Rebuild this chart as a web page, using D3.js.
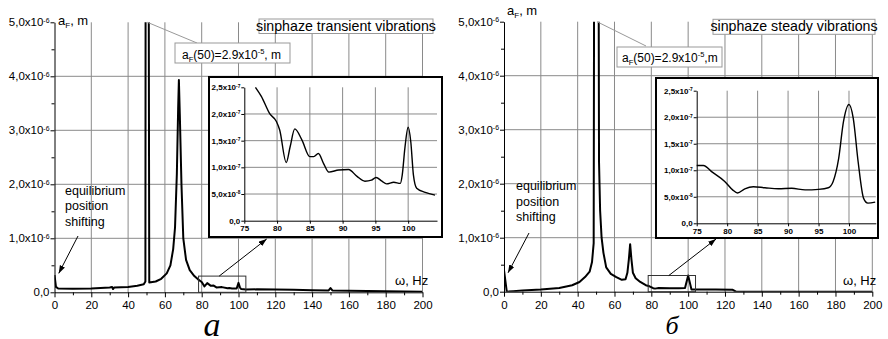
<!DOCTYPE html>
<html>
<head>
<meta charset="utf-8">
<script src="https://cdn.jsdelivr.net/npm/d3@7"></script>
<style>
  body { margin: 0; background: #fff; }
  text { font-family: "Liberation Sans", Arial, sans-serif; fill: #000; }
  text.letter { font-family: "Liberation Serif", "Times New Roman", serif; font-style: italic; }
</style>
</head>
<body>
<script>
// tick values (main axes in Hz and 1e-6 m, insets in Hz and 1e-7 m)
var freqTicks = [0, 20, 40, 60, 80, 100, 120, 140, 160, 180, 200];
var freqMinor = [10, 30, 50, 70, 90, 110, 130, 150, 170, 190];
var ampTicks = [0, 1, 2, 3, 4, 5];
var ampMinor = [0.5, 1.5, 2.5, 3.5, 4.5];
var insetFreqTicks = [75, 80, 85, 90, 95, 100];
var insetAmpTicks = [0, 0.5, 1, 1.5, 2, 2.5];

// transient vibrations, amplitude in 1e-6 m
var transientFreq = [0, 0.8, 2, 10, 20, 30, 31.3, 31.8, 32.5, 40, 45, 48.5, 49.4, 50, 51.5, 55, 58, 61, 63, 64.5, 65.5, 66.5, 67.2, 67.6, 68.1, 69, 70, 71.5, 73.5, 76, 78, 80, 81.5, 83, 85, 86.5, 88, 91, 94, 95, 96.5, 99, 100, 100.8, 101.5, 104, 110, 120, 130, 140, 149, 150, 151, 160, 170, 180, 190, 200];
var transientAmp = [0.32, 0.1, 0.07, 0.065, 0.07, 0.09, 0.1, 0.06, 0.09, 0.1, 0.12, 0.15, 0.2, 29, 0.18, 0.2, 0.25, 0.35, 0.5, 0.8, 1.2, 2.2, 3.4, 3.93, 3.3, 2.0, 1.0, 0.6, 0.41, 0.3, 0.24, 0.19, 0.11, 0.17, 0.12, 0.125, 0.09, 0.096, 0.075, 0.08, 0.07, 0.07, 0.175, 0.086, 0.06, 0.05, 0.055, 0.05, 0.045, 0.04, 0.035, 0.08, 0.035, 0.03, 0.025, 0.02, 0.015, 0.012];

// transient inset, amplitude in 1e-7 m
var transientInsetFreq = [76.7, 77.6, 78.9, 79.9, 80.4, 81.4, 82.0, 82.7, 83.8, 85.0, 85.6, 86.3, 87.1, 87.9, 89.4, 90.9, 92.2, 93.4, 94.4, 95.1, 96.0, 96.7, 97.8, 98.8, 99.1, 99.5, 100.0, 100.4, 100.8, 101.3, 102.6, 104.1];
var transientInsetAmp = [2.5, 2.33, 2.0, 1.86, 1.7, 1.09, 1.39, 1.72, 1.51, 1.2, 1.2, 1.26, 1.07, 0.91, 0.95, 0.96, 0.83, 0.74, 0.76, 0.81, 0.74, 0.69, 0.72, 0.70, 0.86, 1.36, 1.75, 1.48, 0.86, 0.61, 0.53, 0.48];

// steady vibrations, amplitude in 1e-6 m
var steadyFreq = [0, 1.5, 5, 10, 20, 30, 37, 41, 44, 46.5, 47.8, 48.7, 50, 51.6, 52.2, 53, 54, 55.5, 58, 61, 64, 66, 67, 67.8, 68.5, 69.2, 70, 71.5, 74, 77, 79, 81, 82, 84, 90, 95, 98.3, 100, 101.8, 104, 115, 124, 126, 200];
var steadyAmp = [0.4, 0.0, 0.01, 0.02, 0.04, 0.07, 0.12, 0.18, 0.27, 0.37, 0.55, 0.9, 29, 2.4, 1.5, 1.0, 0.72, 0.45, 0.33, 0.27, 0.22, 0.23, 0.35, 0.6, 0.88, 0.6, 0.35, 0.25, 0.18, 0.12, 0.1, 0.065, 0.057, 0.07, 0.066, 0.064, 0.07, 0.3, 0.04, 0.04, 0.04, 0.038, 0, 0];

// steady inset, amplitude in 1e-7 m
var steadyInsetFreq = [75, 76.1, 77.5, 79.6, 80.9, 81.7, 82.9, 84.3, 86.2, 88.4, 90.6, 92.8, 95.0, 96.6, 97.4, 98.3, 99.1, 100.0, 100.7, 101.5, 102.4, 103.1, 104.3];
var steadyInsetAmp = [1.09, 1.09, 0.97, 0.79, 0.63, 0.57, 0.65, 0.69, 0.67, 0.65, 0.66, 0.63, 0.64, 0.67, 0.79, 1.22, 1.92, 2.24, 1.98, 1.16, 0.47, 0.38, 0.40];

var panels = [
  {
    id: "a", freq: transientFreq, amp: transientAmp,
    insetFreq: transientInsetFreq, insetAmp: transientInsetAmp,
    x0: 54.5, x1: 422.5, y0: 292.3, y1: 22.3,
    box: {l: 209, t: 77, r: 442, b: 237}, ix0: 244.3, ix1: 437, iy0: 220.7, iy1: 87.3,
    title: "sinphaze transient vibrations", titleBox: [259, 19, 174, 14.5], titleY: 30.8,
    note: ", m", noteBox: [175, 43, 115, 20], noteX: 182, noteY: 58.5, leaderTo: [197, 43],
    yLabel: [58, 25], xLabel: [395, 285],
    eqX: 65, eqY: 194.5, eqFrom: [78, 236], eqTo: [2.3, 0.35],
    zoomTo: [266.7, 239],
    letter: "a", letterX: 212, letterY: 336, letterSize: 34
  },
  {
    id: "b", freq: steadyFreq, amp: steadyAmp,
    insetFreq: steadyInsetFreq, insetAmp: steadyInsetAmp,
    x0: 504, x1: 872.3, y0: 291.7, y1: 21.7,
    box: {l: 656, t: 78, r: 878, b: 238}, ix0: 696.7, ix1: 875.8, iy0: 223.3, iy1: 90.7,
    title: "sinphaze steady vibrations", titleBox: [713, 19.3, 162, 15], titleY: 31.3,
    note: ",m", noteBox: [617, 47, 105, 20], noteX: 622, noteY: 61.5, leaderTo: [646, 46],
    yLabel: [507, 15], xLabel: [843, 285],
    eqX: 516, eqY: 190, eqFrom: [529, 233], eqTo: [2.2, 0.35],
    zoomTo: [716, 239],
    letter: "\u0431", letterX: 672, letterY: 334, letterSize: 26
  }
];

var svg = d3.select("body").append("svg")
  .attr("width", 888)
  .attr("height", 339);

svg.append("defs").append("marker")
  .attr("id", "arrow")
  .attr("viewBox", "0 0 10 7")
  .attr("refX", 10).attr("refY", 3.5)
  .attr("markerWidth", 8).attr("markerHeight", 6)
  .attr("orient", "auto")
  .append("path")
  .attr("d", "M0,0 L10,3.5 L0,7 z")
  .attr("fill", "#000");

// tick labels like 2,5x10^-7
function sciLabels(sel, unit) {
  sel.each(function(d) {
    var t = d3.select(this), v = d * unit;
    t.text(null);
    if (v === 0) { t.text("0,0"); return; }
    var e = Math.floor(Math.log10(v) + 1e-9);
    var m = (v / Math.pow(10, e)).toFixed(1).replace(".", ",");
    t.append("tspan").text(m + "x10");
    t.append("tspan").attr("dy", "-0.55em").attr("font-size", "0.6em").text(e);
  });
}

panels.forEach(function(p) {
  var g = svg.append("g");

  var x = d3.scaleLinear().domain([0, 200]).range([p.x0, p.x1]);
  var y = d3.scaleLinear().domain([0, 5]).range([p.y0, p.y1]);

  g.append("clipPath").attr("id", "clip-" + p.id)
    .append("rect")
    .attr("x", p.x0).attr("y", p.y1)
    .attr("width", p.x1 - p.x0).attr("height", p.y0 - p.y1);

  // grid
  g.append("g").selectAll("line").data(freqTicks.slice(1)).join("line")
    .attr("x1", d => x(d)).attr("x2", d => x(d))
    .attr("y1", p.y1).attr("y2", p.y0)
    .attr("stroke", "#8a8a8a").attr("stroke-width", 1);
  g.append("g").selectAll("line").data(ampTicks.slice(1, 5)).join("line")
    .attr("x1", p.x0).attr("x2", p.x1)
    .attr("y1", d => y(d)).attr("y2", d => y(d))
    .attr("stroke", "#8a8a8a").attr("stroke-width", 1);

  // curve
  var pts = p.freq.map((f, i) => [f, p.amp[i]]);
  g.append("path")
    .datum(pts)
    .attr("clip-path", "url(#clip-" + p.id + ")")
    .attr("fill", "none")
    .attr("stroke", "#000")
    .attr("stroke-width", 2)
    .attr("stroke-linejoin", "round")
    .attr("d", d3.line().x(d => x(d[0])).y(d => y(d[1])));

  // axes
  g.append("g")
    .attr("transform", `translate(0,${p.y0})`)
    .call(d3.axisBottom(x).tickValues(freqMinor).tickSize(3).tickFormat(""))
    .call(a => a.select(".domain").remove());
  g.append("g")
    .attr("transform", `translate(${p.x0},0)`)
    .call(d3.axisLeft(y).tickValues(ampMinor).tickSize(3).tickFormat(""))
    .call(a => a.select(".domain").remove());
  g.append("g")
    .attr("transform", `translate(0,${p.y0})`)
    .call(d3.axisBottom(x).tickValues(freqTicks).tickSize(5).tickSizeOuter(0).tickPadding(4))
    .call(a => a.selectAll("text").attr("font-size", 11.5));
  g.append("g")
    .attr("transform", `translate(${p.x0},0)`)
    .call(d3.axisLeft(y).tickValues(ampTicks).tickSize(4).tickSizeOuter(0).tickPadding(1))
    .call(a => a.selectAll("text").attr("font-size", 11.5).call(sciLabels, 1e-6));

  // axis titles
  var yl = g.append("text").attr("x", p.yLabel[0]).attr("y", p.yLabel[1]).attr("font-size", 13);
  yl.append("tspan").text("a");
  yl.append("tspan").attr("dy", 3).attr("font-size", 8).text("F");
  yl.append("tspan").attr("dy", -3).text(", m");
  g.append("text").attr("x", p.xLabel[0]).attr("y", p.xLabel[1]).attr("font-size", 13).text("\u03c9, Hz");

  // zoomed region and arrow towards inset
  g.append("rect")
    .attr("x", x(78.3)).attr("y", y(0.3))
    .attr("width", x(104) - x(78.3)).attr("height", y(0) - y(0.3))
    .attr("fill", "none").attr("stroke", "#333").attr("stroke-width", 1);
  g.append("line")
    .attr("x1", x(89.5)).attr("y1", y(0.3))
    .attr("x2", p.zoomTo[0]).attr("y2", p.zoomTo[1])
    .attr("stroke", "#000").attr("stroke-width", 1)
    .attr("marker-end", "url(#arrow)");

  // equilibrium note
  var eq = g.append("text").attr("font-size", 12.5);
  ["equilibrium", "position", "shifting"].forEach(function(s, i) {
    eq.append("tspan").attr("x", p.eqX).attr("y", p.eqY + i * 15.5).text(s);
  });
  g.append("line")
    .attr("x1", p.eqFrom[0]).attr("y1", p.eqFrom[1])
    .attr("x2", x(p.eqTo[0])).attr("y2", y(p.eqTo[1]))
    .attr("stroke", "#000").attr("stroke-width", 1)
    .attr("marker-end", "url(#arrow)");

  // peak value note
  g.append("line")
    .attr("x1", x(50.5)).attr("y1", p.y1)
    .attr("x2", p.leaderTo[0]).attr("y2", p.leaderTo[1])
    .attr("stroke", "#999").attr("stroke-width", 1);
  g.append("rect")
    .attr("x", p.noteBox[0]).attr("y", p.noteBox[1])
    .attr("width", p.noteBox[2]).attr("height", p.noteBox[3])
    .attr("fill", "#fff").attr("stroke", "#999");
  var nt = g.append("text").attr("x", p.noteX).attr("y", p.noteY).attr("font-size", 12);
  nt.append("tspan").text("a");
  nt.append("tspan").attr("dy", 3).attr("font-size", 7.5).text("F");
  nt.append("tspan").attr("dy", -3).text("(50)=2.9x10");
  nt.append("tspan").attr("dy", -5).attr("font-size", 7.5).text("-5");
  nt.append("tspan").attr("dy", 5).text(p.note);

  // title
  g.append("rect")
    .attr("x", p.titleBox[0]).attr("y", p.titleBox[1])
    .attr("width", p.titleBox[2]).attr("height", p.titleBox[3])
    .attr("fill", "#fff").attr("stroke", "#999");
  g.append("text")
    .attr("x", p.titleBox[0] + p.titleBox[2] / 2).attr("y", p.titleY)
    .attr("text-anchor", "middle").attr("font-size", 14.2)
    .text(p.title);

  // inset
  var b = p.box;
  g.append("rect")
    .attr("x", b.l).attr("y", b.t)
    .attr("width", b.r - b.l).attr("height", b.b - b.t)
    .attr("fill", "#fff").attr("stroke", "#000").attr("stroke-width", 2);

  var ix = d3.scaleLinear().domain([75, 104.4]).range([p.ix0, p.ix1]);
  var iy = d3.scaleLinear().domain([0, 2.5]).range([p.iy0, p.iy1]);

  g.append("g").selectAll("line").data(insetFreqTicks.slice(1)).join("line")
    .attr("x1", d => ix(d)).attr("x2", d => ix(d))
    .attr("y1", p.iy1).attr("y2", p.iy0)
    .attr("stroke", "#8a8a8a");
  g.append("g").selectAll("line").data(insetAmpTicks.slice(1, 5)).join("line")
    .attr("x1", p.ix0).attr("x2", p.ix1)
    .attr("y1", d => iy(d)).attr("y2", d => iy(d))
    .attr("stroke", "#8a8a8a");

  var ipts = p.insetFreq.map((f, i) => [f, p.insetAmp[i]]);
  g.append("path")
    .datum(ipts)
    .attr("fill", "none")
    .attr("stroke", "#000")
    .attr("stroke-width", 1.4)
    .attr("d", d3.line().curve(d3.curveMonotoneX).x(d => ix(d[0])).y(d => iy(d[1])));

  g.append("g")
    .attr("transform", `translate(0,${p.iy0})`)
    .call(d3.axisBottom(ix).tickValues(insetFreqTicks).tickSize(3).tickSizeOuter(0).tickPadding(2))
    .call(a => a.selectAll("text").attr("font-size", 8).attr("font-weight", "bold"));
  g.append("g")
    .attr("transform", `translate(${p.ix0},0)`)
    .call(d3.axisLeft(iy).tickValues(insetAmpTicks).tickSize(3).tickSizeOuter(0).tickPadding(1))
    .call(a => a.selectAll("text").attr("font-size", 8).attr("font-weight", "bold").call(sciLabels, 1e-7));

  // panel letter
  g.append("text")
    .attr("class", "letter")
    .attr("x", p.letterX).attr("y", p.letterY)
    .attr("text-anchor", "middle")
    .attr("font-size", p.letterSize)
    .text(p.letter);
});
</script>
</body>
</html>
